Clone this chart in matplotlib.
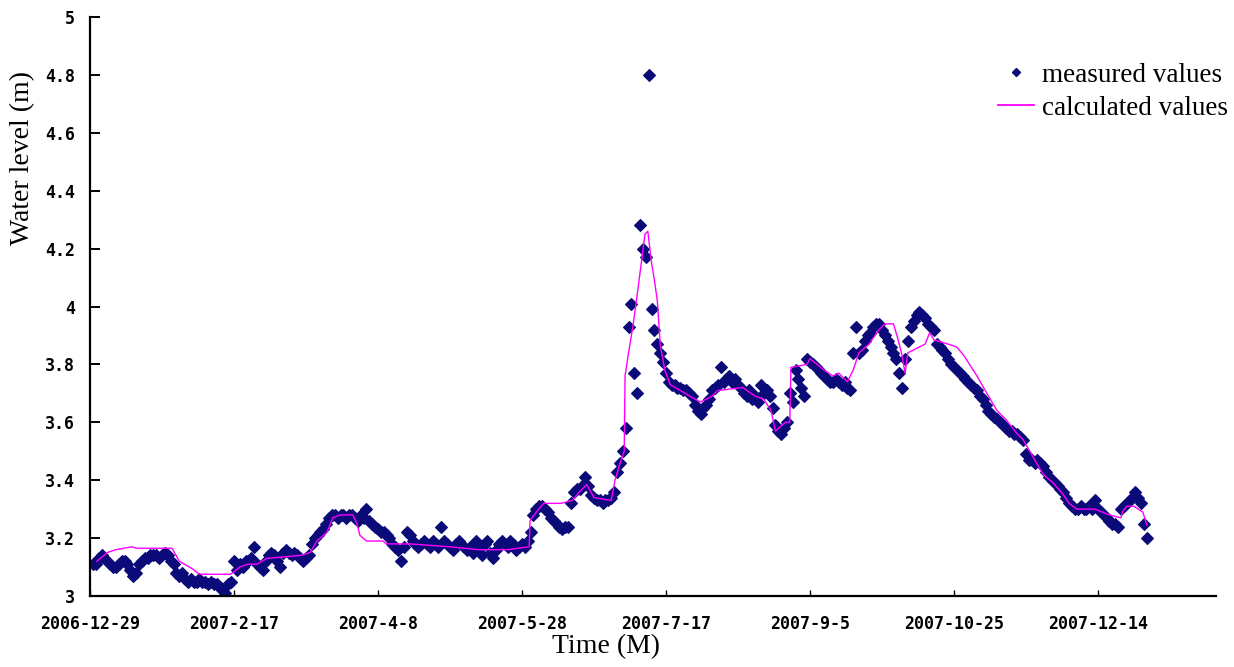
import matplotlib
matplotlib.use("Agg")
import matplotlib.pyplot as plt
from matplotlib.lines import Line2D

# Daily measured water level (m), days counted from 2006-12-29 (first value = day 1)
measured_values = [
    3.11, 3.11, 3.13, 3.14, 3.13, 3.12, 3.11, 3.10, 3.10, 3.11,
    3.12, 3.12, 3.11, 3.09, 3.07, 3.08, 3.11, 3.12, 3.13, 3.13,
    3.14, 3.14, 3.14, 3.13, 3.14, 3.15, 3.14, 3.12, 3.11, 3.08,
    3.07, 3.08, 3.06, 3.05, 3.06, 3.05, 3.05, 3.06, 3.05, 3.05,
    3.04, 3.05, 3.04, 3.04, 3.03, 3.02, 3.01, 3.04, 3.05, 3.12,
    3.09, 3.11, 3.10, 3.12, 3.12, 3.13, 3.17, 3.11, 3.10, 3.09,
    3.12, 3.14, 3.15, 3.14, 3.12, 3.10, 3.15, 3.16, 3.15, 3.14,
    3.15, 3.14, 3.13, 3.12, 3.13, 3.14, 3.18, 3.20, 3.21, 3.22,
    3.23, 3.25, 3.27, 3.28, 3.28, 3.27, 3.28, 3.28, 3.27, 3.28,
    3.28, 3.27, 3.26, 3.28, 3.27, 3.30, 3.26, 3.25, 3.24, 3.23,
    3.22, 3.22, 3.21, 3.20, 3.18, 3.17, 3.16, 3.12, 3.17, 3.22,
    3.21, 3.19, 3.18, 3.17, 3.18, 3.19, 3.18, 3.17, 3.19, 3.18,
    3.17, 3.24, 3.19, 3.18, 3.17, 3.16, 3.18, 3.19, 3.18, 3.17,
    3.16, 3.17, 3.15, 3.19, 3.17, 3.14, 3.18, 3.19, 3.15, 3.13,
    3.16, 3.18, 3.19, 3.18, 3.17, 3.19, 3.18, 3.16, 3.17, 3.18,
    3.17, 3.19, 3.22, 3.28, 3.30, 3.31, 3.31, 3.30, 3.29, 3.27,
    3.26, 3.25, 3.24, 3.23, 3.24, 3.24, 3.32, 3.36, 3.37, 3.37,
    3.38, 3.41, 3.38, 3.35, 3.34, 3.33, 3.33, 3.32, 3.33, 3.33,
    3.34, 3.36, 3.43, 3.46, 3.50, 3.58, 3.93, 4.01, 3.77, 3.70,
    4.28, 4.20, 4.17, 4.80, 3.99, 3.92, 3.87, 3.84, 3.81, 3.77,
    3.74, 3.73, 3.73, 3.72, 3.72, 3.71, 3.71, 3.70, 3.69, 3.66,
    3.64, 3.63, 3.65, 3.66, 3.68, 3.71, 3.72, 3.73, 3.79, 3.74,
    3.75, 3.76, 3.74, 3.75, 3.73, 3.72, 3.70, 3.69, 3.71, 3.68,
    3.69, 3.67, 3.73, 3.70, 3.71, 3.69, 3.65, 3.59, 3.57, 3.56,
    3.58, 3.60, 3.70, 3.67, 3.78, 3.75, 3.72, 3.69, 3.82, 3.81,
    3.80, 3.79, 3.78, 3.77, 3.76, 3.75, 3.74, 3.74, 3.75, 3.74,
    3.73, 3.74, 3.72, 3.71, 3.84, 3.93, 3.84, 3.85, 3.88, 3.90,
    3.91, 3.93, 3.94, 3.94, 3.92, 3.90, 3.88, 3.86, 3.84, 3.82,
    3.77, 3.72, 3.82, 3.88, 3.93, 3.95, 3.97, 3.98, 3.97, 3.96,
    3.94, 3.93, 3.92, 3.87, 3.86, 3.85, 3.84, 3.82, 3.80, 3.79,
    3.78, 3.77, 3.76, 3.75, 3.74, 3.73, 3.72, 3.71, 3.69, 3.68,
    3.66, 3.64, 3.63, 3.62, 3.61, 3.60, 3.59, 3.58, 3.57, 3.57,
    3.56, 3.56, 3.55, 3.54, 3.49, 3.47, 3.47, 3.46, 3.47, 3.46,
    3.45, 3.43, 3.41, 3.40, 3.39, 3.38, 3.37, 3.36, 3.34, 3.32,
    3.31, 3.30, 3.30, 3.31, 3.30, 3.30, 3.31, 3.30, 3.33, 3.30,
    3.29, 3.28, 3.27, 3.26, 3.25, 3.25, 3.24, 3.30, 3.31, 3.32,
    3.33, 3.34, 3.36, 3.34, 3.32, 3.25, 3.20,
]
measured_days = list(range(1, len(measured_values) + 1))

# Model output (m): day offsets and values
calc_days = [
    2.4, 6, 9, 14.6, 16, 28.5, 31, 35.4, 38, 48.6, 49.6, 52, 54.9, 58, 61.4,
    73, 76.4, 78.8, 82.3, 84.3, 86.8, 91.3, 92.7, 93.7, 96, 101.7, 103, 111,
    125, 135, 145, 152.5, 152.8, 155, 157.5, 163.5, 167.5, 170, 172.5, 175,
    181, 182.3, 184.1, 185.5, 185.8, 187, 188.5, 190, 191.7, 192.7, 193.7,
    195, 196, 197, 198, 199.6, 201.5, 205, 208.3, 212, 216, 218, 226.7, 231,
    234, 236.5, 238, 241.5, 243, 243.4, 249, 250, 255, 258, 260, 263, 265,
    267, 270.5, 274, 276, 279, 280.5, 282, 283, 284, 286, 290, 291.6, 293,
    298, 301, 303.5, 308, 312, 315, 318, 322, 324, 327.5, 331, 334.5, 338,
    340, 342.7, 349, 354, 358, 358.5, 360, 362.5, 364, 365.6, 367,
]
calc_values = [
    3.12, 3.15, 3.16, 3.17, 3.165, 3.165, 3.12, 3.095, 3.075, 3.075, 3.08,
    3.10, 3.11, 3.11, 3.13, 3.14, 3.15, 3.19, 3.22, 3.27, 3.28, 3.28, 3.25,
    3.21, 3.19, 3.19, 3.18, 3.18, 3.17, 3.16, 3.16, 3.17, 3.26, 3.29, 3.32,
    3.32, 3.33, 3.36, 3.385, 3.34, 3.33, 3.40, 3.46, 3.50, 3.76, 3.84, 3.93,
    4.04, 4.17, 4.25, 4.26, 4.15, 4.09, 4.02, 3.87, 3.78, 3.73, 3.71, 3.69,
    3.67, 3.69, 3.71, 3.72, 3.69, 3.68, 3.64, 3.57, 3.60, 3.60, 3.79, 3.80,
    3.82, 3.78, 3.76, 3.77, 3.74, 3.78, 3.84, 3.87, 3.92, 3.94, 3.94, 3.89,
    3.83, 3.77, 3.84, 3.85, 3.87, 3.91, 3.885, 3.87, 3.86, 3.83, 3.76, 3.69,
    3.64, 3.61, 3.56, 3.54, 3.48, 3.42, 3.39, 3.35, 3.32, 3.30, 3.30, 3.28,
    3.27, 3.29, 3.31, 3.31, 3.30, 3.29, 3.245,
]

x_tick_days = [0, 50, 100, 150, 200, 250, 300, 350]
x_tick_labels = ["2006-12-29", "2007-2-17", "2007-4-8", "2007-5-28",
                 "2007-7-17", "2007-9-5", "2007-10-25", "2007-12-14"]
y_ticks = [3.0, 3.2, 3.4, 3.6, 3.8, 4.0, 4.2, 4.4, 4.6, 4.8, 5.0]
y_tick_labels = ["3", "3.2", "3.4", "3.6", "3.8", "4", "4.2", "4.4", "4.6", "4.8", "5"]

NAVY = "#0a0a78"
MAGENTA = "#ff00ff"
SERIF = "Liberation Serif"
TICKFONT = dict(family="DejaVu Sans Mono", weight="bold", size=12)

fig = plt.figure(figsize=(12.34, 6.67), dpi=100)
ax = fig.add_axes([90 / 1234, 71 / 667, 1126 / 1234, 579 / 667])

ax.plot(measured_days, measured_values, linestyle="none", marker="D",
        markersize=6.3, color=NAVY, markeredgewidth=0.8, zorder=2)
ax.plot(calc_days, calc_values, color=MAGENTA, linewidth=1.0, zorder=3)

ax.set_xlim(0, 391)
ax.set_ylim(3, 5)
ax.set_xticks(x_tick_days)
ax.set_xticklabels(x_tick_labels, fontdict=TICKFONT)
ax.set_yticks(y_ticks)
ax.set_yticklabels(y_tick_labels, fontdict=TICKFONT)

for side in ("top", "right"):
    ax.spines[side].set_visible(False)
for side in ("left", "bottom"):
    ax.spines[side].set_linewidth(1.6)
    ax.spines[side].set_color("black")

ax.tick_params(axis="y", direction="in", length=7, width=1.4, pad=11)
ax.tick_params(axis="x", direction="in", length=4, width=1.0, pad=14)

ax.set_xlabel("Time (M)", family=SERIF, fontsize=20, labelpad=1)
ax.xaxis.set_label_coords(0.458, -0.065)
ax.set_ylabel("Water level (m)", family=SERIF, fontsize=20, va="center")
ax.yaxis.set_label_coords(-0.060, 0.756)

handles = [
    Line2D([], [], linestyle="none", marker="D", markersize=4, color=NAVY),
    Line2D([], [], color=MAGENTA, linewidth=1.3),
]
ax.legend(handles, ["measured values", "calculated values"],
          loc="upper right", bbox_to_anchor=(1.02, 0.94), borderaxespad=0,
          frameon=False, prop={"family": SERIF, "size": 19.5},
          handlelength=1.3, handletextpad=0.3, labelspacing=0.3)

fig.savefig("out.png", dpi=100, facecolor="white")
